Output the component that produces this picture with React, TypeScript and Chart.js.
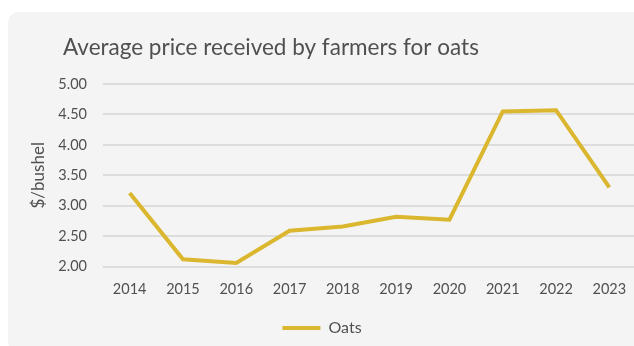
import React, { useEffect, useRef } from "react";
import { Chart, registerables } from "chart.js";

Chart.register(...registerables);

const years = ["2014", "2015", "2016", "2017", "2018", "2019", "2020", "2021", "2022", "2023"];
const oatsPrices = [3.21, 2.12, 2.06, 2.59, 2.66, 2.82, 2.77, 4.55, 4.57, 3.3];
const chartTitle = "Average price received by farmers for oats";
const yAxisTitle = "$/bushel";
const seriesName = "Oats";

const FONT = "Lato, 'Open Sans', sans-serif";

const titlePlugin = {
  id: "leftTitle",
  afterDraw(chart: any) {
    const ctx = chart.ctx;
    ctx.save();
    ctx.font = `22.5px ${FONT}`;
    ctx.fillStyle = "#505050";
    ctx.textAlign = "left";
    ctx.textBaseline = "alphabetic";
    ctx.fillText(chartTitle, 55, 43);
    ctx.restore();
  },
};

export default function App() {
  const ref = useRef<HTMLCanvasElement>(null);
  useEffect(() => {
    if (!ref.current) return;
    const chart = new Chart(ref.current, {
      type: "line",
      data: {
        labels: years,
        datasets: [
          {
            label: seriesName,
            data: oatsPrices,
            borderColor: "#dab72e",
            backgroundColor: "#dab72e",
            borderWidth: 4,
            pointRadius: 0,
            pointStyle: "line",
            tension: 0,
          },
        ],
      },
      options: {
        responsive: false,
        animation: false,
        layout: { padding: { top: 72, left: 0, right: 12, bottom: 0 } },
        scales: {
          x: {
            offset: true,
            grid: { display: false, drawTicks: false },
            border: { display: false },
            ticks: { color: "#505050", font: { family: FONT, size: 14.5 }, padding: 14 },
          },
          y: {
            min: 2,
            max: 5,
            afterFit(scale: any) {
              scale.width = 95;
            },
            grid: { color: "#dddddd", lineWidth: 2, drawTicks: false },
            border: { display: false },
            ticks: {
              stepSize: 0.5,
              color: "#505050",
              font: { family: FONT, size: 14.5 },
              padding: 16,
              callback: (v: any) => Number(v).toFixed(2),
            },
            title: {
              display: true,
              text: yAxisTitle,
              color: "#505050",
              font: { family: FONT, size: 17 },
              padding: { top: 20, bottom: 0 },
            },
          },
        },
        plugins: {
          title: { display: false },
          tooltip: { enabled: false },
          legend: {
            position: "bottom",
            labels: {
              usePointStyle: true,
              pointStyleWidth: 38,
              color: "#505050",
              font: { family: FONT, size: 16 },
              padding: 8,
            },
          },
        },
      },
      plugins: [titlePlugin],
    });
    return () => chart.destroy();
  }, []);
  return (
    <div
      style={{
        position: "fixed",
        left: 8,
        top: 12,
        width: 640,
        height: 340,
        background: "#f4f4f4",
        borderRadius: 10,
        overflow: "hidden",
      }}
    >
      <canvas ref={ref} width={640} height={334} style={{ display: "block" }} />
    </div>
  );
}
